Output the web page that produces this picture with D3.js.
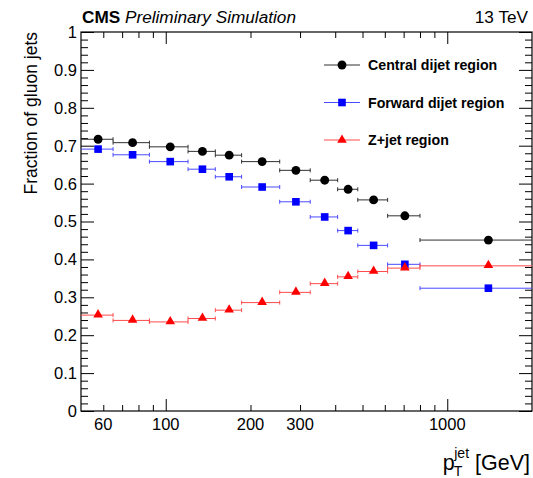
<!DOCTYPE html>
<html>
<head>
<meta charset="utf-8">
<script src="https://cdn.jsdelivr.net/npm/d3@7"></script>
<style>
  html, body { margin: 0; padding: 0; background: #fff; }
  svg { display: block; font-family: "Liberation Sans", Arial, Helvetica, sans-serif; }
</style>
</head>
<body>
<svg id="chart" width="533" height="478"></svg>
<script>
// pT bin edges (GeV) shared by all three regions
const binEdges = [50, 65, 87.5, 120, 150, 186, 254, 326, 408, 481, 614, 800, 2000];

// Fraction of gluon jets in each pT bin
const centralDijet = [0.717, 0.708, 0.697, 0.685, 0.675, 0.658, 0.635, 0.609, 0.585, 0.557, 0.515, 0.451];
const forwardDijet = [0.691, 0.676, 0.658, 0.638, 0.618, 0.591, 0.552, 0.512, 0.476, 0.437, 0.387, 0.324];
const zJet         = [0.253, 0.239, 0.235, 0.244, 0.266, 0.286, 0.313, 0.336, 0.354, 0.368, 0.377, 0.383];

const seriesNames = ["Central dijet region", "Forward dijet region", "Z+jet region"];

// Axis ticks
const xLabelTicks = [60, 100, 200, 300, 1000];
const xMajorTicks = [100, 1000];
const xMinorTicks = [60, 70, 80, 90, 200, 300, 400, 500, 600, 700, 800, 900];
const yLabelTicks = [0, 0.1, 0.2, 0.3, 0.4, 0.5, 0.6, 0.7, 0.8, 0.9, 1];

const svg = d3.select("#chart");
const frame = { left: 81, right: 532, top: 32, bottom: 411 };

const x = d3.scaleLog().domain([50, 2000]).range([frame.left, frame.right]);
const y = d3.scaleLinear().domain([0, 1]).range([frame.bottom, frame.top]);

const series = [
  { name: seriesNames[0], values: centralDijet, color: "#000000", bar: "#303030", shape: "circle" },
  { name: seriesNames[1], values: forwardDijet, color: "#0000ff", bar: "#4a4aff", shape: "square" },
  { name: seriesNames[2], values: zJet,         color: "#ff0000", bar: "#ff4a4a", shape: "triangle" }
];

const symbolFor = {
  circle: d3.symbol().type(d3.symbolCircle).size(62),
  square: d3.symbol().type(d3.symbolSquare).size(58),
  triangle: d3.symbol().type(d3.symbolTriangle).size(40)
};

// ---- axes frame and ticks ----
const axes = svg.append("g").attr("class", "axes");

function tickGroup(axisGen, transform) {
  const g = axes.append("g").attr("transform", transform).call(axisGen);
  g.select(".domain").remove();
  g.selectAll(".tick line").attr("stroke", "#000").attr("stroke-width", 1);
  g.selectAll(".tick text").remove();
  return g;
}

// bottom and top x ticks, pointing inward
tickGroup(d3.axisBottom(x).tickValues(xMajorTicks).tickSize(-12), `translate(0,${frame.bottom})`);
tickGroup(d3.axisBottom(x).tickValues(xMinorTicks).tickSize(-6), `translate(0,${frame.bottom})`);
tickGroup(d3.axisTop(x).tickValues(xMajorTicks).tickSize(-12), `translate(0,${frame.top})`);
tickGroup(d3.axisTop(x).tickValues(xMinorTicks).tickSize(-6), `translate(0,${frame.top})`);

// left and right y ticks
const yMinor = d3.range(0, 1.0001, 0.02).map(v => +v.toFixed(2)).filter(v => Math.round(v * 100) % 10 !== 0);
tickGroup(d3.axisLeft(y).tickValues(yLabelTicks).tickSize(-13), `translate(${frame.left},0)`);
tickGroup(d3.axisLeft(y).tickValues(yMinor).tickSize(-7), `translate(${frame.left},0)`);
tickGroup(d3.axisRight(y).tickValues(yLabelTicks).tickSize(-13), `translate(${frame.right},0)`);
tickGroup(d3.axisRight(y).tickValues(yMinor).tickSize(-7), `translate(${frame.right},0)`);

axes.append("rect")
  .attr("x", frame.left).attr("y", frame.top)
  .attr("width", frame.right - frame.left).attr("height", frame.bottom - frame.top)
  .attr("fill", "none").attr("stroke", "#000").attr("stroke-width", 1.2);

// tick labels
axes.append("g").selectAll("text").data(xLabelTicks).join("text")
  .attr("x", d => x(d)).attr("y", frame.bottom + 19)
  .attr("text-anchor", "middle").attr("font-size", 16.5).attr("fill", "#000")
  .text(d => d);

axes.append("g").selectAll("text").data(yLabelTicks).join("text")
  .attr("x", frame.left - 4).attr("y", d => y(d)).attr("dy", "0.36em")
  .attr("text-anchor", "end").attr("font-size", 16.5).attr("fill", "#000")
  .text(d => d3.format("")(d));

// axis titles
svg.append("text")
  .attr("transform", `translate(37,${frame.top}) rotate(-90)`)
  .attr("text-anchor", "end").attr("font-size", 17.5)
  .text("Fraction of gluon jets");

const xt = svg.append("text").attr("x", 530).attr("y", 470).attr("text-anchor", "end").attr("font-size", 21.5);
xt.append("tspan").text("p");
xt.append("tspan").attr("font-size", 14).attr("dy", 6).attr("dx", -1).text("T");
xt.append("tspan").attr("font-size", 14).attr("dy", -18).attr("dx", -8).text("jet");
xt.append("tspan").attr("dy", 12).text("\u00a0[GeV]");

// header
const hdr = svg.append("text").attr("x", 82).attr("y", 23).attr("font-size", 17.2);
hdr.append("tspan").attr("font-weight", "bold").text("CMS");
hdr.append("tspan").attr("font-style", "italic").text(" Preliminary Simulation");
svg.append("text").attr("x", 528).attr("y", 23).attr("text-anchor", "end").attr("font-size", 17.2).text("13 TeV");

// ---- data: horizontal bin-width bars with end caps, plus markers ----
const plot = svg.append("g").attr("class", "data");
series.forEach(s => {
  const pts = s.values.map((v, i) => ({
    lo: binEdges[i], hi: binEdges[i + 1], c: (binEdges[i] + binEdges[i + 1]) / 2, v
  }));
  const g = plot.append("g");
  g.selectAll("line.bar").data(pts).join("line").attr("class", "bar")
    .attr("x1", d => x(d.lo)).attr("x2", d => x(d.hi))
    .attr("y1", d => y(d.v)).attr("y2", d => y(d.v))
    .attr("stroke", s.bar).attr("stroke-width", 1);
  const caps = pts.flatMap(d => [{ at: d.lo, v: d.v }, { at: d.hi, v: d.v }])
    .filter(d => d.at > 50 && d.at < 2000);
  g.selectAll("line.cap").data(caps).join("line").attr("class", "cap")
    .attr("x1", d => x(d.at)).attr("x2", d => x(d.at))
    .attr("y1", d => y(d.v) - 2).attr("y2", d => y(d.v) + 2)
    .attr("stroke", s.bar).attr("stroke-width", 1);
  g.selectAll("path").data(pts).join("path")
    .attr("transform", d => `translate(${x(d.c)},${y(d.v) + (s.shape === "triangle" ? -0.5 : 0)})`)
    .attr("d", symbolFor[s.shape]())
    .attr("fill", s.color);
});

// ---- legend ----
const legendRows = [65, 102.5, 140];
const legend = svg.append("g").attr("class", "legend");
series.forEach((s, i) => {
  const ly = legendRows[i];
  legend.append("line").attr("x1", 324).attr("x2", 360).attr("y1", ly).attr("y2", ly)
    .attr("stroke", s.bar).attr("stroke-width", 1);
  legend.append("path").attr("transform", `translate(342,${ly})`).attr("d", symbolFor[s.shape]()).attr("fill", s.color);
  legend.append("text").attr("x", 368).attr("y", ly + 5).attr("font-size", 14.2)
    .attr("font-weight", "bold").text(s.name);
});
</script>
</body>
</html>
